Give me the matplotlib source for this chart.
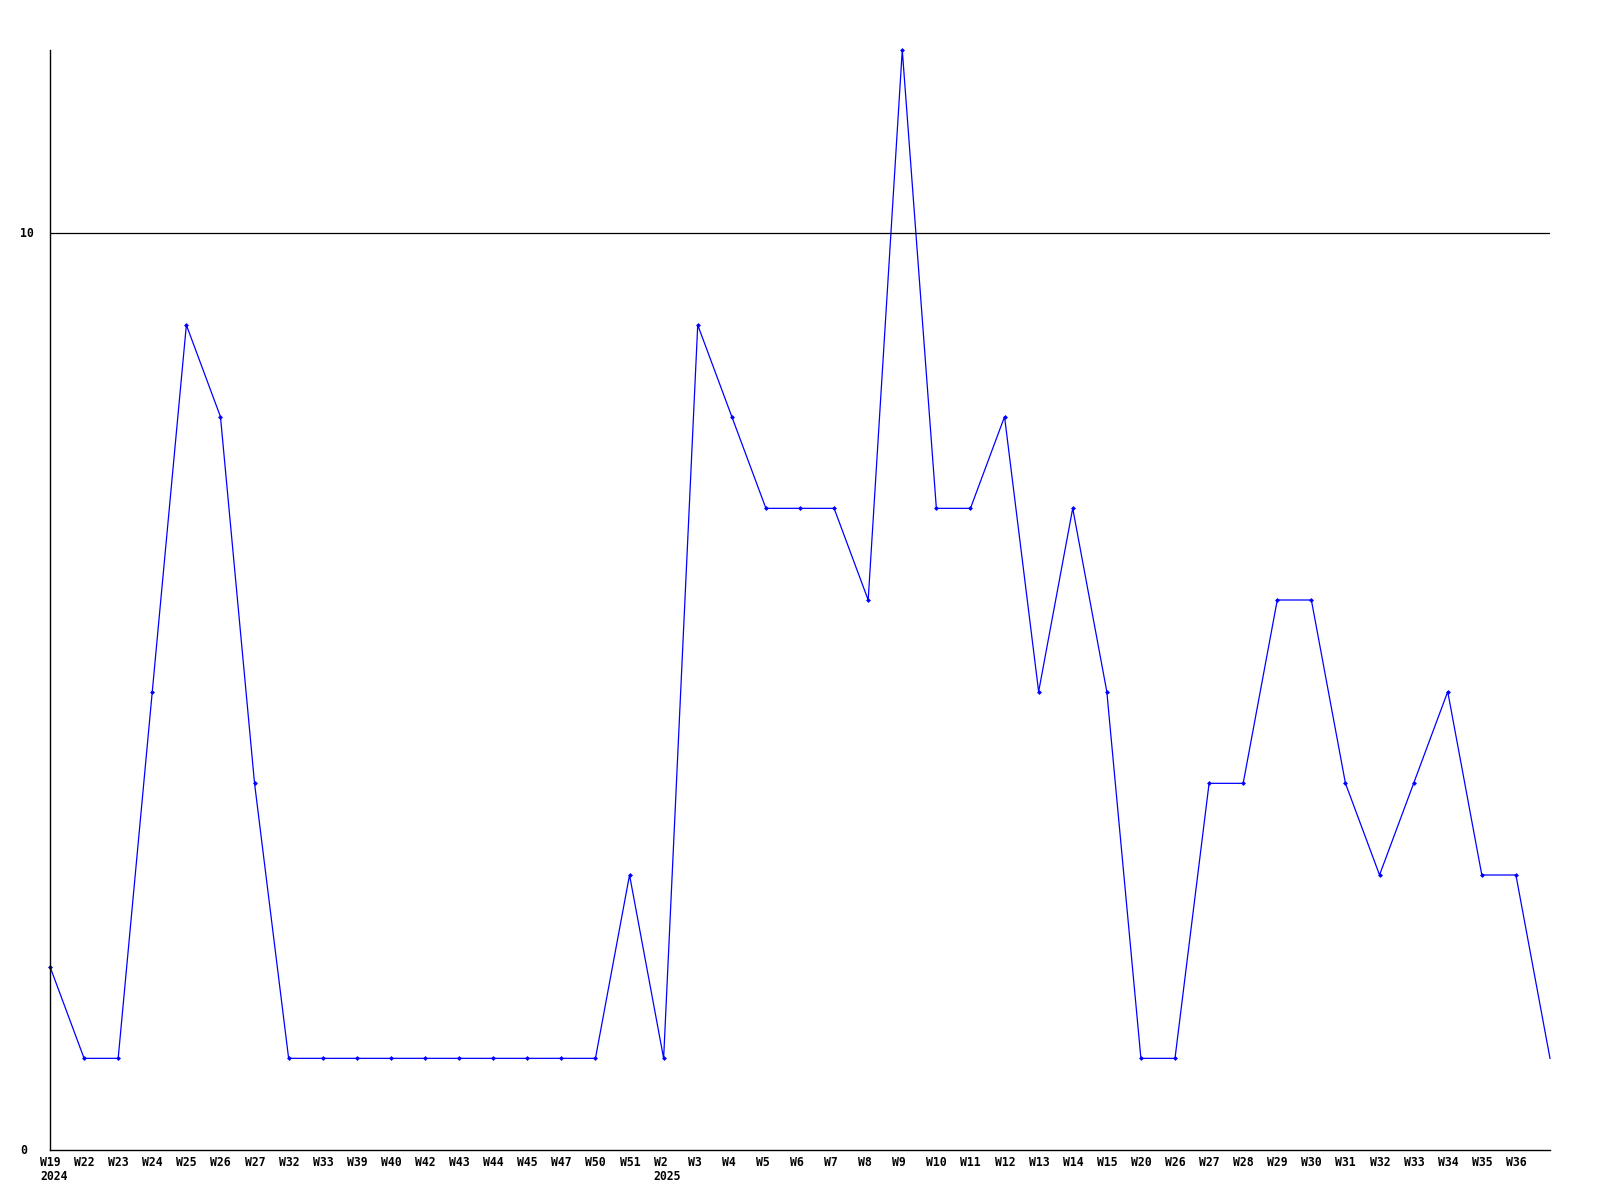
import matplotlib
matplotlib.use("Agg")
import matplotlib.pyplot as plt
import matplotlib.transforms as mt

weeks = ["W19", "W22", "W23", "W24", "W25", "W26", "W27", "W32", "W33", "W39",
         "W40", "W42", "W43", "W44", "W45", "W47", "W50", "W51", "W2", "W3",
         "W4", "W5", "W6", "W7", "W8", "W9", "W10", "W11", "W12", "W13",
         "W14", "W15", "W20", "W26", "W27", "W28", "W29", "W30", "W31", "W32",
         "W33", "W34", "W35", "W36", ""]
years = {0: "2024", 18: "2025"}
values = [2, 1, 1, 5, 9, 8, 4, 1, 1, 1,
          1, 1, 1, 1, 1, 1, 1, 3, 1, 9,
          8, 7, 7, 7, 6, 12, 7, 7, 8, 5,
          7, 5, 1, 1, 4, 4, 6, 6, 4, 3,
          4, 5, 3, 3, 1]
y_ticks = [0, 10]

W, H = 1600, 1200
fig = plt.figure(figsize=(16, 12), dpi=100)
ax = fig.add_axes([50 / W, 50 / H, 1500 / W, 1100 / H])
x = list(range(len(values)))
ax.plot(x, values, color="#0000ff", lw=0.9, marker="D", ms=2.5, mew=0,
        markevery=list(range(len(values) - 1)), clip_on=False)
ax.set_xlim(0, len(values) - 1)
ax.set_ylim(0, 12)
for s in ["top", "right"]:
    ax.spines[s].set_visible(False)
for s in ["left", "bottom"]:
    ax.spines[s].set_linewidth(1.0)
ax.set_xticks([])
ax.set_yticks([])
for t in y_ticks:
    if t > 0:
        ax.axhline(t, color="black", lw=0.9)

font = dict(family="DejaVu Sans Mono", weight="bold", size=8.3)
px = 72.0 / 100  # points per pixel
for i, w in enumerate(weeks):
    off = mt.offset_copy(ax.get_xaxis_transform(), fig=fig, x=-10 * px, y=-12 * px, units="points")
    ax.text(i, 0, w, transform=off, ha="left", va="center", **font)
    if i in years:
        off2 = mt.offset_copy(ax.get_xaxis_transform(), fig=fig, x=-10 * px, y=-27 * px, units="points")
        ax.text(i, 0, years[i], transform=off2, ha="left", va="center", **font)
for t in y_ticks:
    yoff = mt.offset_copy(ax.get_yaxis_transform(), fig=fig, x=-30 * px, y=0, units="points")
    ax.text(0, t, str(t), transform=yoff, ha="left", va="center", **font)

fig.savefig("out.png", dpi=100, facecolor="white")
